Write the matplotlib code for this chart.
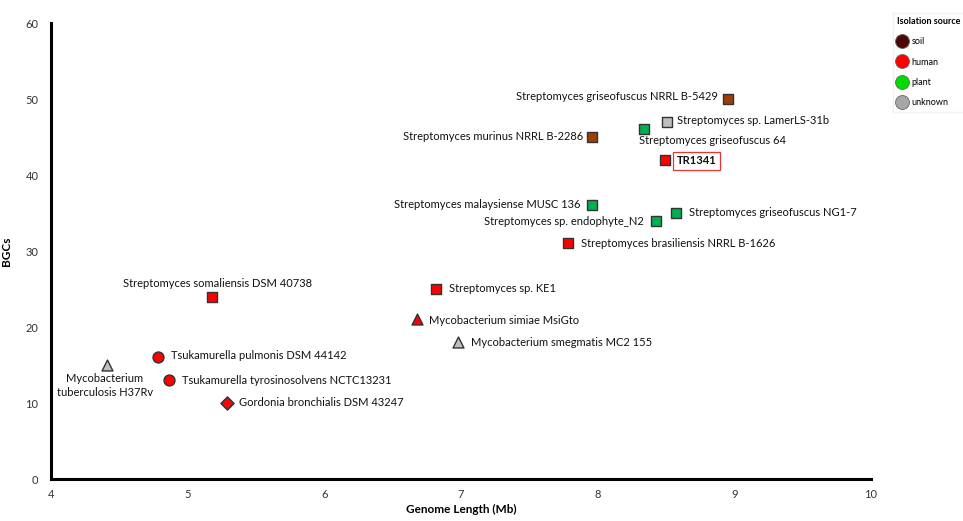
import matplotlib
matplotlib.use("Agg")
import matplotlib.pyplot as plt
from matplotlib.lines import Line2D

plt.rcParams['font.family'] = ['Lato', 'DejaVu Sans']

names = [
    "Streptomyces griseofuscus NRRL B-5429",
    "Streptomyces sp. LamerLS-31b",
    "Streptomyces murinus NRRL B-2286",
    "Streptomyces griseofuscus 64",
    "TR1341",
    "Streptomyces malaysiense MUSC 136",
    "Streptomyces sp. endophyte_N2",
    "Streptomyces griseofuscus NG1-7",
    "Streptomyces brasiliensis NRRL B-1626",
    "Streptomyces somaliensis DSM 40738",
    "Streptomyces sp. KE1",
    "Mycobacterium simiae MsiGto",
    "Mycobacterium smegmatis MC2 155",
    "Mycobacterium\ntuberculosis H37Rv",
    "Tsukamurella pulmonis DSM 44142",
    "Tsukamurella tyrosinosolvens NCTC13231",
    "Gordonia bronchialis DSM 43247",
]
genome_mb = [8.95, 8.51, 7.96, 8.34, 8.49, 7.96, 8.43, 8.57, 7.78, 5.18, 6.82, 6.68, 6.98, 4.41, 4.78, 4.86, 5.29]
bgcs = [50, 47, 45, 46, 42, 36, 34, 35, 31, 24, 25, 21, 18, 15, 16, 13, 10]
source = ["soil", "unknown", "soil", "plant", "human", "plant", "plant", "plant", "human",
          "human", "human", "human", "unknown", "unknown", "human", "human", "human"]
marker_kind = ["s"] * 11 + ["^", "^", "^", "o", "o", "D"]

x_ticks = [4, 5, 6, 7, 8, 9, 10]
y_ticks = [0, 10, 20, 30, 40, 50, 60]

point_colors = {"soil": "#9c3d0a", "human": "#ff0000", "plant": "#00b050", "unknown": "#bfbfbf"}
legend_colors = {"soil": "#4d0606", "human": "#ff0000", "plant": "#00dd00", "unknown": "#a6a6a6"}

# label placement: (dx px, dy px, ha, va)
label_pos = [
    (-10, 3, "right", "center"),
    (10, 1, "left", "center"),
    (-9, 0, "right", "center"),
    (-5, -11, "left", "center"),
    (12, -1, "left", "center"),
    (-12, 1, "right", "center"),
    (-13, -1, "right", "center"),
    (13, 0, "left", "center"),
    (13, 0, "left", "center"),
    (5, 13, "center", "center"),
    (13, 0, "left", "center"),
    (12, -1, "left", "center"),
    (13, 0, "left", "center"),
    (-2, -8, "center", "top"),
    (13, 2, "left", "center"),
    (13, 0, "left", "center"),
    (12, 0, "left", "center"),
]

fig = plt.figure(figsize=(9.63, 5.21), dpi=100)
ax = fig.add_axes([51 / 963, 1 - 479 / 521, 820 / 963, 456 / 521])

for i in range(len(names)):
    ms = 62 if marker_kind[i] in ("s", "o", "^") else 45
    ax.scatter(genome_mb[i], bgcs[i], marker=marker_kind[i], s=ms,
               facecolor=point_colors[source[i]], edgecolor="#333333", linewidth=1.0, zorder=3)
    dx, dy, ha, va = label_pos[i]
    bold = names[i] == "TR1341"
    kw = {}
    if bold:
        kw["bbox"] = dict(boxstyle="square,pad=0.3", fc="white", ec="#ee3333", lw=0.9)
    ax.annotate(names[i], (genome_mb[i], bgcs[i]), xytext=(dx * 0.72, dy * 0.72),
                textcoords="offset points", ha=ha, va=va, fontsize=8.0,
                fontweight="bold" if bold else "normal", color="#111111",
                multialignment="center", linespacing=1.3, **kw)

ax.set_xlim(4, 10)
ax.set_ylim(0, 60)
ax.set_xticks(x_ticks)
ax.set_yticks(y_ticks)
ax.tick_params(axis="x", length=0, labelsize=8, colors="#333333", pad=7)
ax.tick_params(axis="y", length=0, labelsize=8, colors="#333333", pad=9)
for s in ("top", "right"):
    ax.spines[s].set_visible(False)
for s in ("left", "bottom"):
    ax.spines[s].set_linewidth(2.2)
    ax.spines[s].set_color("black")
ax.set_xlabel("Genome Length (Mb)", fontsize=8.5, fontweight="bold", labelpad=3)
ax.set_ylabel("BGCs", fontsize=8.5, fontweight="bold", labelpad=10)

handles = [Line2D([], [], marker="o", linestyle="none", markersize=10,
                  markerfacecolor=legend_colors[k], markeredgecolor="#666666", markeredgewidth=0.6, label=k)
           for k in ["soil", "human", "plant", "unknown"]]
leg = fig.legend(handles=handles, title="Isolation source", loc="upper left",
                 bbox_to_anchor=(888 / 963, 1 - 8 / 521), fontsize=6.5, title_fontsize=6.5,
                 frameon=True, fancybox=False, edgecolor="#eeeeee", handletextpad=0.4,
                 labelspacing=1.25, borderpad=0.5, handlelength=1.2, alignment="left")
leg.get_title().set_fontweight("bold")

fig.savefig("out.png", dpi=100)
